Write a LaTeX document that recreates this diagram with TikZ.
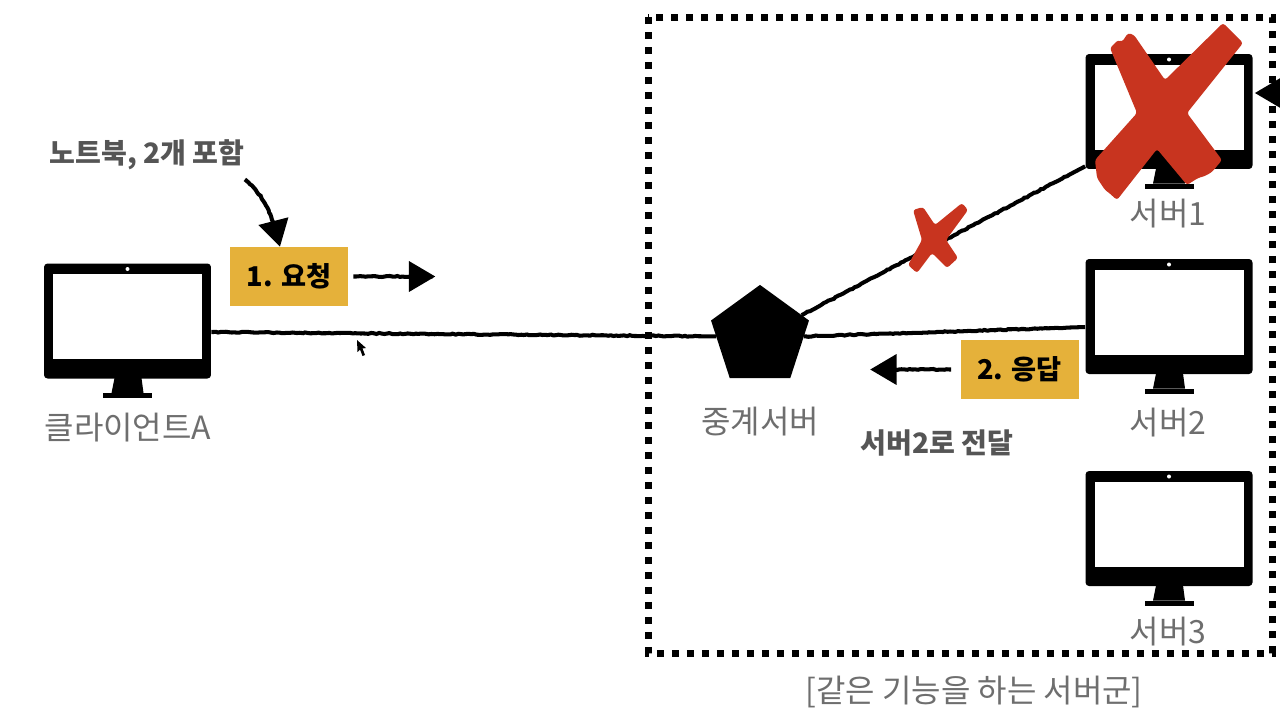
\documentclass[tikz,border=0pt]{standalone}
\usepackage{fontspec}
\usepackage{xcolor}
\setmainfont{Noto Sans CJK KR}
\usetikzlibrary{
	arrows.meta,
	calc,
	decorations.pathmorphing,
	shapes.geometric
}
\definecolor{TagYellow}{RGB}{229,177,58}
\definecolor{CrossRed}{RGB}{200,52,31}
\definecolor{LabelGray}{RGB}{110,110,110}
\definecolor{NoteGray}{RGB}{85,85,85}
\tikzset{
	pics/monitor/.style={code={
		\node[fill=black, rounded corners=2pt, minimum width=3.34cm, minimum height=2.3cm, inner sep=0pt] (-body) at (0,0) {};
		\fill[white] (-74.5,-47) rectangle (74.5,38);
		\fill[white] (0,-52) circle (2);
		\fill (-13,57) -- (14,57) -- (16,72) -- (-16,72) -- cycle;
		\fill (-24.5,72) rectangle (24.5,77);
	}},
	rough/.style={line width=2.3pt, black, decorate, decoration={random steps, segment length=1.5pt, amplitude=0.3pt, post length=10pt, pre length=1pt}},
	roughtip/.style={rough, -{Triangle[length=15pt, width=17pt]}},
	tag/.style={fill=TagYellow, minimum width=2.36cm, minimum height=1.18cm, inner sep=0pt, font=\fontsize{15.5}{18}\selectfont\bfseries},
	srvlabel/.style={text=LabelGray, inner sep=0pt, font=\fontsize{18.2}{21}\selectfont},
	note/.style={text=NoteGray, inner sep=0pt, font=\fontsize{16}{19}\selectfont\bfseries},
	cross/.style={fill=CrossRed, rounded corners=1.5pt}
}

\begin{document}
\begin{tikzpicture}[x=0.02cm, y=-0.02cm]
	\useasboundingbox (0,0) rectangle (1280,711);
	% server group frame
	\draw[line width=0.14cm, dash pattern=on 0.14cm off 0.16cm] (648,17) rectangle (1272,653);
	% machines
	\pic (client) at (127.5,321) {monitor};
	\pic (srva) at (1169,111.5) {monitor};
	\pic (srvb) at (1169,316.5) {monitor};
	\pic (srvc) at (1169,528.5) {monitor};
	\node[regular polygon, regular polygon sides=5, fill=black, minimum size=2.06cm, inner sep=0pt, outer sep=0pt] (relay) at (760,336.4) {};
	% labels
	\node[srvlabel] (clientlabel) at (128,428) {클라이언트A};
	\node[srvlabel] (relaylabel) at (760,422) {중계서버};
	\node[srvlabel] (srvalabel) at (1168,214) {서버1};
	\node[srvlabel] (srvblabel) at (1168,423) {서버2};
	\node[srvlabel] (srvclabel) at (1168,632) {서버3};
	\node[srvlabel] (grouplabel) at (974,692) {[같은 기능을 하는 서버군]};
	\node[note] (notebook) at (147,155) {노트북, 2개 포함};
	\node[note] (forward) at (937,443) {서버2로 전달};
	\node[tag] (request) at (289,276.5) {1. 요청};
	\node[tag] (response) at (1019.5,369.5) {2. 응답};
	% connectors
	\draw[rough] ([yshift=-0.22cm]client-body.east) -- (relay.180);
	\draw[rough] (relay.0) -- ([yshift=-0.21cm]srvb-body.west);
	\draw[rough] (relay.27) -- ([yshift=0.06cm]srva-body.south west);
	\draw[roughtip] ([yshift=-0.18cm]notebook.south east) .. controls (262,192) and (274,218) .. ([xshift=-0.18cm]request.north);
	\draw[roughtip] ([xshift=0.1cm]request.east) -- ++(82,0);
	\draw[roughtip] ([xshift=-0.18cm]response.west) -- ++(-81,0);
	\coordinate (offpage) at (1310,93);
	\draw[roughtip] (offpage) -- ([xshift=0.04cm]srva-body.east |- offpage);
	% crosses
	\path[cross] (1110,48) -- (1118,40) -- (1122,42) -- (1128,33) -- (1134,35) -- (1165,80) -- (1223,23) -- (1228,28) -- (1232,32) -- (1243,43) -- (1187,113) -- (1222,160) -- (1212,172) -- (1205,176) -- (1198,178) -- (1187,185) -- (1157,149) -- (1117,200) -- (1108,192) -- (1105,190) -- (1097,178) -- (1095,160) -- (1137,113) -- cycle;
	\path[cross] (913,210) -- (923,207) -- (935,225) -- (962,203) -- (968,210) -- (946,240) -- (958,258) -- (947,268) -- (932,253) -- (917,273) -- (908,265) -- (922,240) -- cycle;
	% pointer
	\fill (357,340) -- (357.5,352) -- (360,349.5) -- (362.5,356) -- (365,355) -- (362.5,348.5) -- (366,348) -- cycle;
\end{tikzpicture}
\end{document}
